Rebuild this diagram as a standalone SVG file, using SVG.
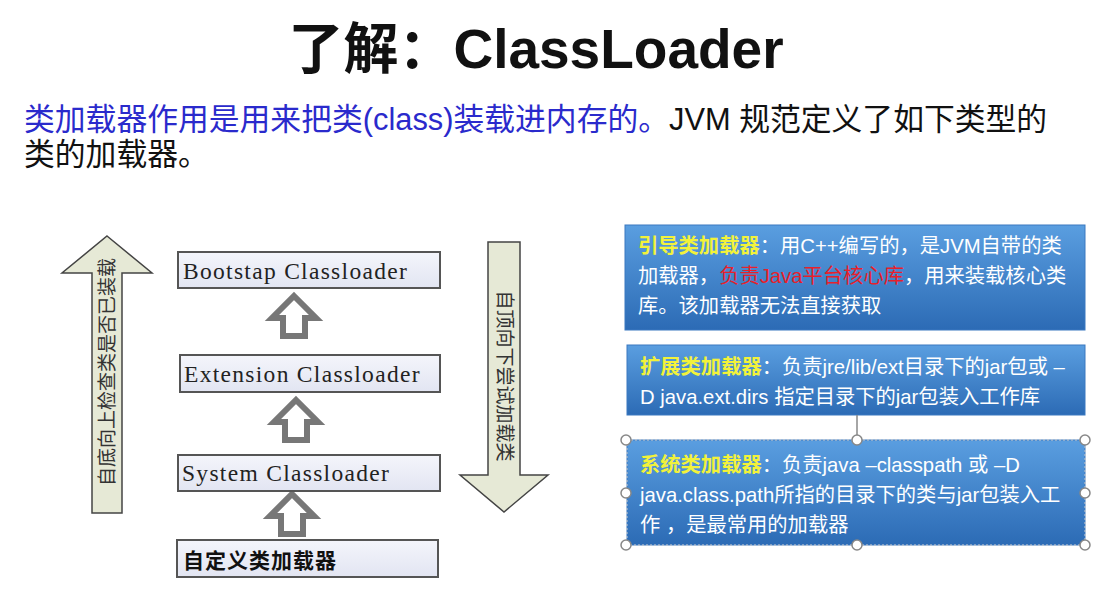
<svg xmlns="http://www.w3.org/2000/svg" width="1119" height="589" viewBox="0 0 1119 589">
<defs>
<linearGradient id="bg" x1="0" y1="0" x2="0" y2="1"><stop offset="0" stop-color="#5a9ee0"/><stop offset="1" stop-color="#2c6bb5"/></linearGradient>
<linearGradient id="lb" x1="0" y1="0" x2="0" y2="1"><stop offset="0" stop-color="#f4f5fb"/><stop offset="1" stop-color="#e2e5f2"/></linearGradient>
<g id="ha"><path d="M0,-20 L22,2 L11,2 L11,20 L-11,20 L-11,2 L-22,2 Z" fill="#fff" stroke="#777" stroke-width="6" stroke-linejoin="miter"/></g>
</defs>
<style>
.t{font-family:"Liberation Sans","Noto Sans CJK SC",sans-serif}
.s{font-family:"Liberation Serif","Noto Sans CJK SC",serif;font-size:23.5px;fill:#222;letter-spacing:1.3px}
.lbox{fill:url(#lb);stroke:#555;stroke-width:2}
.bbox{fill:url(#bg);stroke:#3a78c0;stroke-width:1}
.w{font-family:"Liberation Sans","Noto Sans CJK SC",sans-serif;font-size:20.3px;fill:#fff}
.y{fill:#f2f23a;font-weight:bold}
.h{fill:#fff;stroke:#888;stroke-width:1.5}
</style>
<rect width="1119" height="589" fill="#fff"/>
<text class="t" x="536" y="68" text-anchor="middle" font-size="55" font-weight="bold" fill="#111">了解：ClassLoader</text>
<text class="t" x="24" y="130" font-size="30.8"><tspan fill="#2a2acc">类加载器作用是用来把类(class)装载进内存的。</tspan><tspan fill="#111">JVM 规范定义了如下类型的</tspan></text>
<text class="t" x="24" y="165" font-size="30.8" fill="#111">类的加载器。</text>
<g id="bigarrows">
<path d="M107,236 L152,273 L122,273 L122,513 L92,513 L92,273 L62,273 Z" fill="#e6e9d6" stroke="#444" stroke-width="1.5"/>
<text class="t" transform="translate(114,372) rotate(-90)" text-anchor="middle" font-size="19" fill="#333">自底向上检查类是否已装载</text>
<path d="M488,242 L520,242 L520,475 L548,475 L504,512 L460,475 L488,475 Z" fill="#e6e9d6" stroke="#444" stroke-width="1.5"/>
<text class="t" transform="translate(498,376) rotate(90)" text-anchor="middle" font-size="19" fill="#333">自顶向下尝试加载类</text>
</g>
<g id="connectors">
<use href="#ha" x="294" y="316"/>
<use href="#ha" x="296" y="420"/>
<use href="#ha" x="292" y="514"/>
</g>
<g id="bootstrap"><rect class="lbox" x="178" y="252" width="262" height="36"/><text class="s" x="183" y="279">Bootstap Classloader</text></g>
<g id="extension"><rect class="lbox" x="180" y="355" width="260" height="37"/><text class="s" x="184" y="382">Extension Classloader</text></g>
<g id="system"><rect class="lbox" x="178" y="455" width="262" height="36"/><text class="s" x="182" y="481">System Classloader</text></g>
<g id="custom"><rect class="lbox" x="177" y="540" width="261" height="37"/><text class="t" x="183" y="568" font-size="21" font-weight="bold" fill="#111" letter-spacing="1">自定义类加载器</text></g>
<g id="boot-desc"><rect class="bbox" x="625" y="225" width="460" height="105"/>
<text class="w" x="638" y="253"><tspan class="y">引导类加载器</tspan>：用C++编写的，是JVM自带的类</text>
<text class="w" x="638" y="283">加载器，<tspan fill="#e8202a">负责Java平台核心库</tspan>，用来装载核心类</text>
<text class="w" x="638" y="313">库。该加载器无法直接获取</text></g>
<g id="ext-desc"><rect class="bbox" x="627" y="345" width="458" height="70"/>
<text class="w" x="640" y="374"><tspan class="y">扩展类加载器</tspan>：负责jre/lib/ext目录下的jar包或 –</text>
<text class="w" x="640" y="404">D java.ext.dirs 指定目录下的jar包装入工作库</text></g>
<g id="sys-desc"><rect class="bbox" x="627" y="440" width="458" height="105"/>
<rect x="627" y="440" width="458" height="105" fill="none" stroke="#ccc" stroke-dasharray="2,2"/>
<text class="w" x="640" y="472"><tspan class="y">系统类加载器</tspan>：负责java –classpath 或 –D</text>
<text class="w" x="640" y="502">java.class.path所指的目录下的类与jar包装入工</text>
<text class="w" x="640" y="532">作 ，是最常用的加载器</text>
<line x1="857" y1="415" x2="857" y2="440" stroke="#888" stroke-width="1.5"/>
<circle class="h" cx="626" cy="440" r="5"/><circle class="h" cx="857" cy="440" r="5"/><circle class="h" cx="1085" cy="440" r="5"/>
<circle class="h" cx="626" cy="493" r="5"/><circle class="h" cx="1085" cy="493" r="5"/>
<circle class="h" cx="626" cy="545" r="5"/><circle class="h" cx="857" cy="545" r="5"/><circle class="h" cx="1085" cy="545" r="5"/>
</g>
</svg>
